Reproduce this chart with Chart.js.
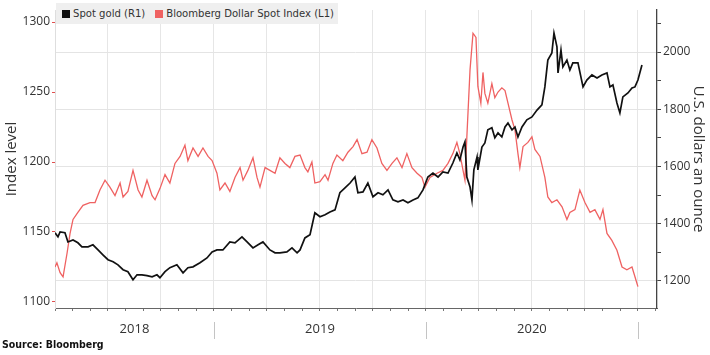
<!DOCTYPE html>
<html>
<head>
<meta charset="utf-8">
<script src="https://cdn.jsdelivr.net/npm/chart.js@4/dist/chart.umd.min.js"></script>
<style>
  html, body { margin: 0; padding: 0; background: #fff; }
  #wrap { position: relative; width: 710px; height: 355px; overflow: hidden; }
  #legend { position: absolute; left: 56px; top: 3px; width: 282px; height: 21px; background: #efefef;
            font-family: "DejaVu Sans Condensed", "DejaVu Sans", sans-serif; font-size: 11.2px; color: #333;
            display: flex; align-items: center; padding-left: 6px; box-sizing: border-box; white-space: nowrap; }
  #legend .item { display: flex; align-items: center; margin-right: 10px; }
  #legend .sw { width: 8px; height: 8px; margin-right: 3px; }
  #source { position: absolute; left: 2px; top: 338px; font-family: "DejaVu Sans Condensed", "DejaVu Sans", sans-serif;
            font-weight: bold; font-size: 10.5px; color: #111; }
</style>
</head>
<body>
<div id="wrap">
  <canvas id="c" width="710" height="355"></canvas>
  <div id="legend"></div>
  <div id="source">Source: Bloomberg</div>
</div>
<script>
// ---- data (x values are fractional years) ----
const seriesNames = ['Spot gold (R1)', 'Bloomberg Dollar Spot Index (L1)'];
const seriesColors = ['#111111', '#ef6262'];

const goldDates = [2018.250,2018.264,2018.274,2018.297,2018.311,2018.335,2018.358,2018.377,2018.406,2018.429,
2018.453,2018.476,2018.500,2018.524,2018.547,2018.571,2018.594,2018.618,2018.637,2018.660,
2018.684,2018.708,2018.731,2018.745,2018.769,2018.792,2018.825,2018.854,2018.877,2018.901,
2018.934,2018.967,2018.991,2019.014,2019.042,2019.075,2019.099,2019.132,2019.156,2019.184,
2019.208,2019.231,2019.264,2019.288,2019.311,2019.344,2019.368,2019.392,2019.406,2019.429,
2019.453,2019.476,2019.500,2019.524,2019.547,2019.571,2019.594,2019.618,2019.642,2019.665,
2019.679,2019.703,2019.726,2019.750,2019.774,2019.797,2019.821,2019.844,2019.868,2019.892,
2019.915,2019.939,2019.962,2019.986,2020.009,2020.033,2020.057,2020.080,2020.104,2020.127,
2020.146,2020.160,2020.175,2020.184,2020.193,2020.208,2020.217,2020.226,2020.241,2020.245,
2020.264,2020.278,2020.292,2020.311,2020.325,2020.340,2020.358,2020.373,2020.387,2020.406,
2020.420,2020.434,2020.453,2020.476,2020.500,2020.524,2020.547,2020.561,2020.575,2020.594,
2020.604,2020.618,2020.623,2020.637,2020.646,2020.665,2020.679,2020.693,2020.717,2020.741,
2020.759,2020.783,2020.807,2020.830,2020.854,2020.868,2020.882,2020.901,2020.915,2020.929,
2020.953,2020.972,2020.986,2021.000,2021.019];

const goldValues = [1368,1354,1371,1368,1336,1343,1333,1319,1319,1326,
1308,1291,1274,1267,1256,1239,1232,1204,1221,1221,
1218,1214,1221,1211,1232,1246,1256,1228,1246,1249,
1263,1280,1301,1308,1308,1336,1333,1354,1336,1315,
1326,1336,1308,1298,1298,1301,1315,1298,1308,1350,
1361,1438,1424,1431,1441,1448,1508,1525,1542,1563,
1508,1511,1542,1494,1508,1501,1518,1483,1476,1483,
1473,1483,1490,1518,1563,1577,1563,1581,1577,1612,
1647,1623,1668,1686,1563,1528,1483,1588,1633,1588,
1668,1682,1728,1735,1700,1717,1703,1738,1752,1728,
1738,1703,1738,1763,1773,1797,1815,1878,1972,1997,
2066,2018,1927,2007,1948,1972,1937,1962,1962,1878,
1902,1920,1909,1920,1927,1878,1885,1822,1787,1843,
1857,1874,1878,1902,1955];

const dollarDates = [2018.250,2018.259,2018.274,2018.288,2018.307,2018.321,2018.335,2018.358,2018.382,2018.415,
2018.439,2018.462,2018.486,2018.509,2018.533,2018.557,2018.571,2018.594,2018.618,2018.642,
2018.660,2018.684,2018.708,2018.722,2018.745,2018.769,2018.792,2018.816,2018.840,2018.863,
2018.877,2018.901,2018.925,2018.948,2018.972,2018.991,2019.014,2019.028,2019.052,2019.075,
2019.099,2019.123,2019.137,2019.160,2019.184,2019.203,2019.217,2019.241,2019.264,2019.288,
2019.311,2019.335,2019.358,2019.382,2019.406,2019.429,2019.443,2019.462,2019.476,2019.500,
2019.524,2019.538,2019.561,2019.580,2019.608,2019.632,2019.656,2019.675,2019.698,2019.722,
2019.745,2019.769,2019.792,2019.816,2019.840,2019.863,2019.887,2019.910,2019.934,2019.958,
2019.981,2019.995,2020.019,2020.052,2020.080,2020.104,2020.127,2020.146,2020.160,2020.175,
2020.184,2020.193,2020.208,2020.222,2020.236,2020.245,2020.259,2020.269,2020.278,2020.292,
2020.311,2020.325,2020.340,2020.358,2020.373,2020.387,2020.406,2020.420,2020.434,2020.443,
2020.458,2020.481,2020.500,2020.514,2020.538,2020.561,2020.575,2020.594,2020.618,2020.642,
2020.665,2020.679,2020.703,2020.726,2020.750,2020.774,2020.797,2020.821,2020.835,2020.854,
2020.877,2020.901,2020.925,2020.948,2020.972,2020.986,2021.000];

const dollarValues = [1125,1128,1121,1118,1135,1149,1159,1164,1169,1171,
1171,1180,1187,1182,1176,1185,1175,1179,1194,1180,
1175,1187,1176,1173,1181,1191,1185,1199,1204,1212,
1201,1210,1204,1210,1204,1201,1192,1180,1185,1179,
1189,1196,1187,1194,1203,1189,1182,1196,1194,1192,
1203,1199,1196,1204,1205,1196,1193,1200,1185,1186,
1191,1187,1199,1205,1201,1207,1211,1216,1206,1207,
1216,1210,1199,1194,1199,1203,1196,1206,1196,1192,
1189,1182,1189,1192,1194,1199,1206,1214,1206,1194,
1187,1218,1266,1292,1289,1254,1242,1264,1249,1242,
1256,1246,1250,1253,1251,1242,1230,1223,1206,1196,
1211,1214,1218,1209,1204,1189,1175,1171,1173,1168,
1159,1164,1166,1180,1171,1164,1166,1159,1166,1149,
1144,1137,1125,1123,1125,1118,1111];

const yearLabels = ['2018', '2019', '2020'];
const yearCenters = [2018.625, 2019.5, 2020.5];
const yearBounds = [2019, 2020, 2021];
const leftTicks = [1100, 1150, 1200, 1250, 1300];
const rightTicks = [1200, 1300, 1400, 1500, 1600, 1700, 1800, 1900, 2000, 2100];
const rightLabelled = [1200, 1400, 1600, 1800, 2000];

// ---- legend (HTML, from series names) ----
const legendEl = document.getElementById('legend');
seriesNames.forEach((n, i) => {
  const it = document.createElement('div'); it.className = 'item';
  const sw = document.createElement('div'); sw.className = 'sw'; sw.style.background = seriesColors[i];
  const tx = document.createElement('span'); tx.textContent = n;
  it.appendChild(sw); it.appendChild(tx); legendEl.appendChild(it);
});

const X_MIN = 2018.25, X_MAX = 2021.09;
const tickFont = { family: '"Open Sans", "Noto Sans", sans-serif', size: 12 };

const yearSeparators = {
  id: 'yearSeparators',
  afterDraw(chart) {
    const s = chart.scales.x2; const ctx = chart.ctx;
    ctx.save(); ctx.strokeStyle = '#c4c4c4'; ctx.lineWidth = 1;
    yearBounds.forEach(v => {
      const px = Math.round(s.getPixelForValue(v)) + 0.5;
      ctx.beginPath(); ctx.moveTo(px, s.top + 8); ctx.lineTo(px, s.top + 25); ctx.stroke();
    });
    ctx.restore();
  }
};

new Chart(document.getElementById('c'), {
  type: 'line',
  data: {
    datasets: [
      { label: seriesNames[0], data: goldDates.map((d, i) => ({ x: d, y: goldValues[i] })), yAxisID: 'yR',
        borderColor: seriesColors[0], borderWidth: 1.7, pointRadius: 0, tension: 0 },
      { label: seriesNames[1], data: dollarDates.map((d, i) => ({ x: d, y: dollarValues[i] })), yAxisID: 'yL',
        borderColor: seriesColors[1], borderWidth: 1.3, pointRadius: 0, tension: 0 }
    ]
  },
  options: {
    responsive: false, animation: false, events: [],
    layout: { padding: { top: 10, left: 0, right: 0, bottom: 0 } },
    plugins: { legend: { display: false }, tooltip: { enabled: false } },
    scales: {
      x: {
        type: 'linear', position: 'bottom', min: X_MIN, max: X_MAX, weight: 0,
        afterBuildTicks: s => { const t = []; for (let m = 3; m <= 37; m++) t.push({ value: 2018 + m / 12 }); s.ticks = t; },
        afterFit: s => { s.height = 6; },
        ticks: { display: false },
        grid: {
          color: c => (c.tick && Math.round(c.tick.value * 12) % 3 === 0) ? '#e6e6e6' : 'rgba(0,0,0,0)',
          tickColor: '#777', tickLength: 3, lineWidth: 1
        },
        border: { color: '#666', width: 1 }
      },
      x2: {
        type: 'linear', position: 'bottom', min: X_MIN, max: X_MAX, weight: 1,
        afterBuildTicks: s => { s.ticks = yearCenters.map(v => ({ value: v })); },
        afterFit: s => { s.height = 41; },
        grid: { display: false, drawTicks: false },
        border: { display: false },
        ticks: { callback: (v, i) => yearLabels[i], color: '#333', padding: 7, maxRotation: 0, autoSkip: false,
                 font: { family: '"Open Sans", "Noto Sans", sans-serif', size: 13 } }
      },
      yL: {
        type: 'linear', position: 'left', min: 1095.7, max: 1308.6,
        afterBuildTicks: s => { s.ticks = leftTicks.map(v => ({ value: v })); },
        afterFit: s => { s.width = 55; },
        grid: { drawOnChartArea: false, tickColor: '#e05050', tickLength: 3 },
        border: { color: '#dedede', width: 1 },
        ticks: { color: '#333', padding: 2, font: tickFont, callback: v => String(v) },
        title: { display: true, text: 'Index level', color: '#333', padding: { top: 3, bottom: 0 },
                 font: { family: '"Open Sans", "Noto Sans", sans-serif', size: 15 } }
      },
      yR: {
        type: 'linear', position: 'right', min: 1105, max: 2147,
        afterBuildTicks: s => { s.ticks = rightTicks.map(v => ({ value: v })); },
        afterFit: s => { s.width = 53; },
        grid: {
          color: c => (c.tick && rightLabelled.includes(c.tick.value)) ? '#e4e4e4' : 'rgba(0,0,0,0)',
          tickColor: '#444', tickLength: 4
        },
        border: { color: '#444', width: 1.3 },
        ticks: { color: '#333', padding: 2, font: tickFont,
                 callback: v => rightLabelled.includes(v) ? String(v) : '' },
        title: { display: true, text: 'U.S. dollars an ounce', color: '#333', padding: { top: 3, bottom: 0 },
                 font: { family: '"Open Sans", "Noto Sans", sans-serif', size: 15 } }
      }
    }
  },
  plugins: [yearSeparators]
});
</script>
</body>
</html>
